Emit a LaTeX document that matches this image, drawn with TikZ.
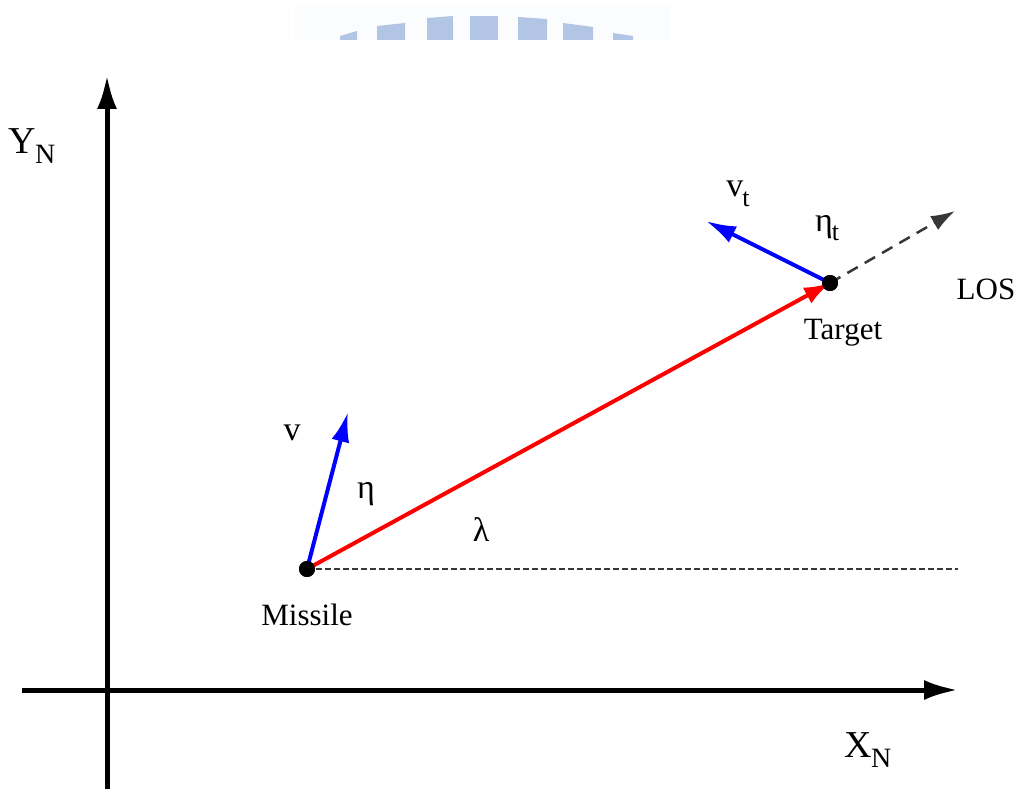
\documentclass[tikz,border=0pt]{standalone}
\usepackage{fontspec}
\setmainfont{Liberation Serif}
\usetikzlibrary{arrows.meta}
\definecolor{wm}{RGB}{178,197,228}
\definecolor{wmband}{RGB}{251,252,254}
\definecolor{dgray}{RGB}{55,55,55}
\tikzset{
  lbl/.style={inner sep=0pt, font=\fontsize{31}{36}\selectfont},
  axlbl/.style={inner sep=0pt, font=\fontsize{38}{42}\selectfont},
  sym/.style={inner sep=0pt, font=\fontsize{34}{38}\selectfont},
  axis/.style={line width=5pt, -{Latex[length=34pt,width=20pt]}},
  vel/.style={blue, line width=4pt, -{Latex[length=30pt,width=18pt]}},
  los/.style={red, line width=4pt, -{Latex[length=26pt,width=18pt]}},
  dot/.style={circle, fill=black, minimum size=16pt, inner sep=0pt},
  wmblock/.style={fill=wm, draw=none}
}
\begin{document}
\begin{tikzpicture}[x=1pt,y=-1pt]
\useasboundingbox (0,0) rectangle (1019,789);
% faint watermark
\fill[wmband] (295,5) rectangle (670,40);
\fill[wmblock] (340,36) -- (357,31) -- (357,40) -- (340,40) -- cycle;
\fill[wmblock] (377,26) -- (405,23) -- (405,40) -- (377,40) -- cycle;
\fill[wmblock] (427,18) -- (453,16) -- (453,40) -- (427,40) -- cycle;
\fill[wmblock] (470,16) -- (498,16) -- (498,40) -- (470,40) -- cycle;
\fill[wmblock] (518,17) -- (547,19) -- (547,40) -- (518,40) -- cycle;
\fill[wmblock] (563,23) -- (593,27) -- (593,40) -- (563,40) -- cycle;
\fill[wmblock] (613,33) -- (633,36) -- (633,40) -- (613,40) -- cycle;

% axes
\coordinate (ybot) at (107,789);
\coordinate (ytop) at (107,75);
\coordinate (xleft) at (22,690);
\coordinate (xright) at (958,690);
\draw[axis] (ybot) -- (ytop);
\draw[axis] (xleft) -- (xright);
\node[axlbl] (yn) at (32,146) {Y\kern-1pt\raisebox{-0.28em}{\fontsize{28}{30}\selectfont N}};
\node[axlbl] (xn) at (868,750) {X\kern-1pt\raisebox{-0.28em}{\fontsize{28}{30}\selectfont N}};

% points
\node[dot] (missile) at (307,569) {};
\node[dot] (target) at (830,283) {};
\coordinate (href) at (958,569);
\coordinate (losend) at (955,211);
\coordinate (vtip) at (348,412);
\coordinate (vttip) at (706,221);

% reference line and LOS extension
\draw[dgray, line width=1.5pt, dash pattern=on 6pt off 3pt] (missile.center) -- (href);
\draw[dgray, line width=2.5pt, dash pattern=on 12pt off 8pt, -{Latex[length=24pt,width=16pt]}] (target.center) -- (losend);

% vectors
\draw[los] (missile.center) -- (target.center);
\draw[vel] (missile.center) -- (vtip);
\draw[vel] (target.center) -- (vttip);
\node[dot] at (missile) {};
\node[dot] at (target) {};

% labels
\node[sym] (v) at (292,433) {v};
\node[sym] (eta) at (366,494) {η};
\node[sym] (lam) at (481,530) {λ};
\node[sym] (vt) at (738,194) {v\kern-1pt\raisebox{-0.28em}{\fontsize{26}{28}\selectfont t}};
\node[sym] (etat) at (827,228) {η\kern-1pt\raisebox{-0.28em}{\fontsize{26}{28}\selectfont t}};
\node[lbl] (loslbl) at (986,289) {LOS};
\node[lbl] (tlbl) at (843,333) {Target};
\node[lbl] (mlbl) at (307,615) {Missile};
\end{tikzpicture}
\end{document}
